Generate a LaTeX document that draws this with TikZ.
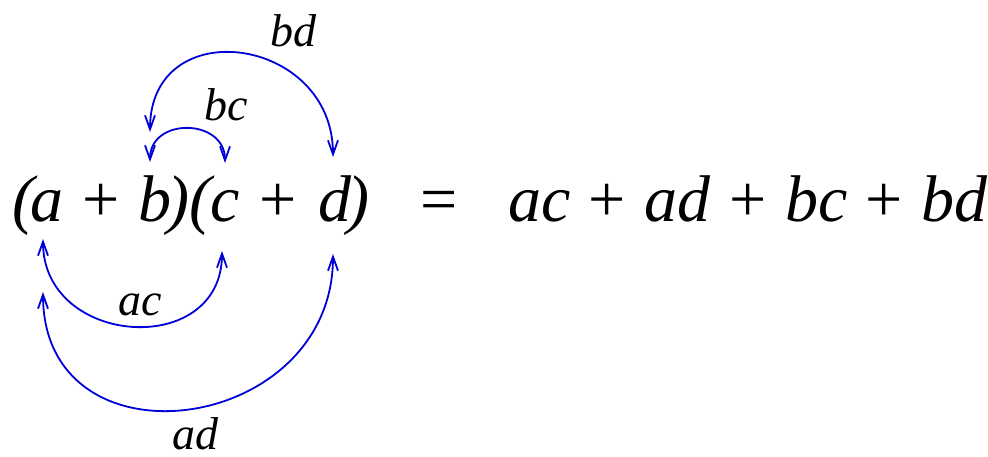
\documentclass[tikz,border=0pt]{standalone}
\usepackage{fontspec}
\setmainfont{Liberation Serif}
\usetikzlibrary{arrows.meta}
\definecolor{arcblue}{RGB}{0,0,215}
\newcommand{\plusgap}{\hspace{0.28em}}
\tikzset{
  big/.style={font=\fontsize{66}{70}\selectfont, inner sep=0pt, anchor=base},
  lbl/.style={font=\fontsize{46}{50}\selectfont\itshape, inner sep=0pt, anchor=base},
  arc/.style={draw=arcblue, line width=1.8pt, {Straight Barb[length=14pt,width=10pt]}-{Straight Barb[length=14pt,width=10pt]}}
}
\begin{document}
\begin{tikzpicture}[x=1pt,y=-1pt]
\useasboundingbox (0,0) rectangle (988,457);
% left side
\node[big] (lp1) at (23,222) {\itshape (};
\node[big] (a) at (47,222) {\itshape a};
\node[big] (p1) at (101,222) {+};
\node[big] (b) at (155,222) {\itshape b};
\node[big] (rp1) at (178,222) {\itshape )};
\node[big] (lp2) at (200,222) {\itshape (};
\node[big] (c) at (225,222) {\itshape c};
\node[big] (p2) at (278,222) {+};
\node[big] (d) at (335,222) {\itshape d};
\node[big] (rp2) at (358,222) {\itshape )};
\node[big] (eq) at (439,222) {=};
\node[big, anchor=base west] (rhs) at (508,222) {\textit{ac}\plusgap+\plusgap\textit{ad}\plusgap+\plusgap\textit{bc}\plusgap+\plusgap\textit{bd}};
% arc ends
\coordinate (aac) at (43,239);
\coordinate (aad) at (43,292);
\coordinate (cac) at (222,251);
\coordinate (dad) at (333,254);
\coordinate (bbc) at (150,162);
\coordinate (cbc) at (225,163);
\coordinate (bbd) at (150,132);
\coordinate (dbd) at (333,157);
% arcs
\draw[arc] (aac) .. controls +(0,108) and +(0,108) .. (cac);
\draw[arc] (aad) .. controls +(0,181) and +(0,181) .. (dad);
\draw[arc] (bbc) .. controls +(0,-45) and +(0,-45) .. (cbc);
\draw[arc] (bbd) .. controls +(0,-121) and +(0,-121) .. (dbd);
% labels
\node[lbl] (lbd) at (293,47) {bd};
\node[lbl] (lbc) at (226,121) {bc};
\node[lbl] (lac) at (140,315) {ac};
\node[lbl] (lad) at (195,449) {ad};
\end{tikzpicture}
\end{document}
